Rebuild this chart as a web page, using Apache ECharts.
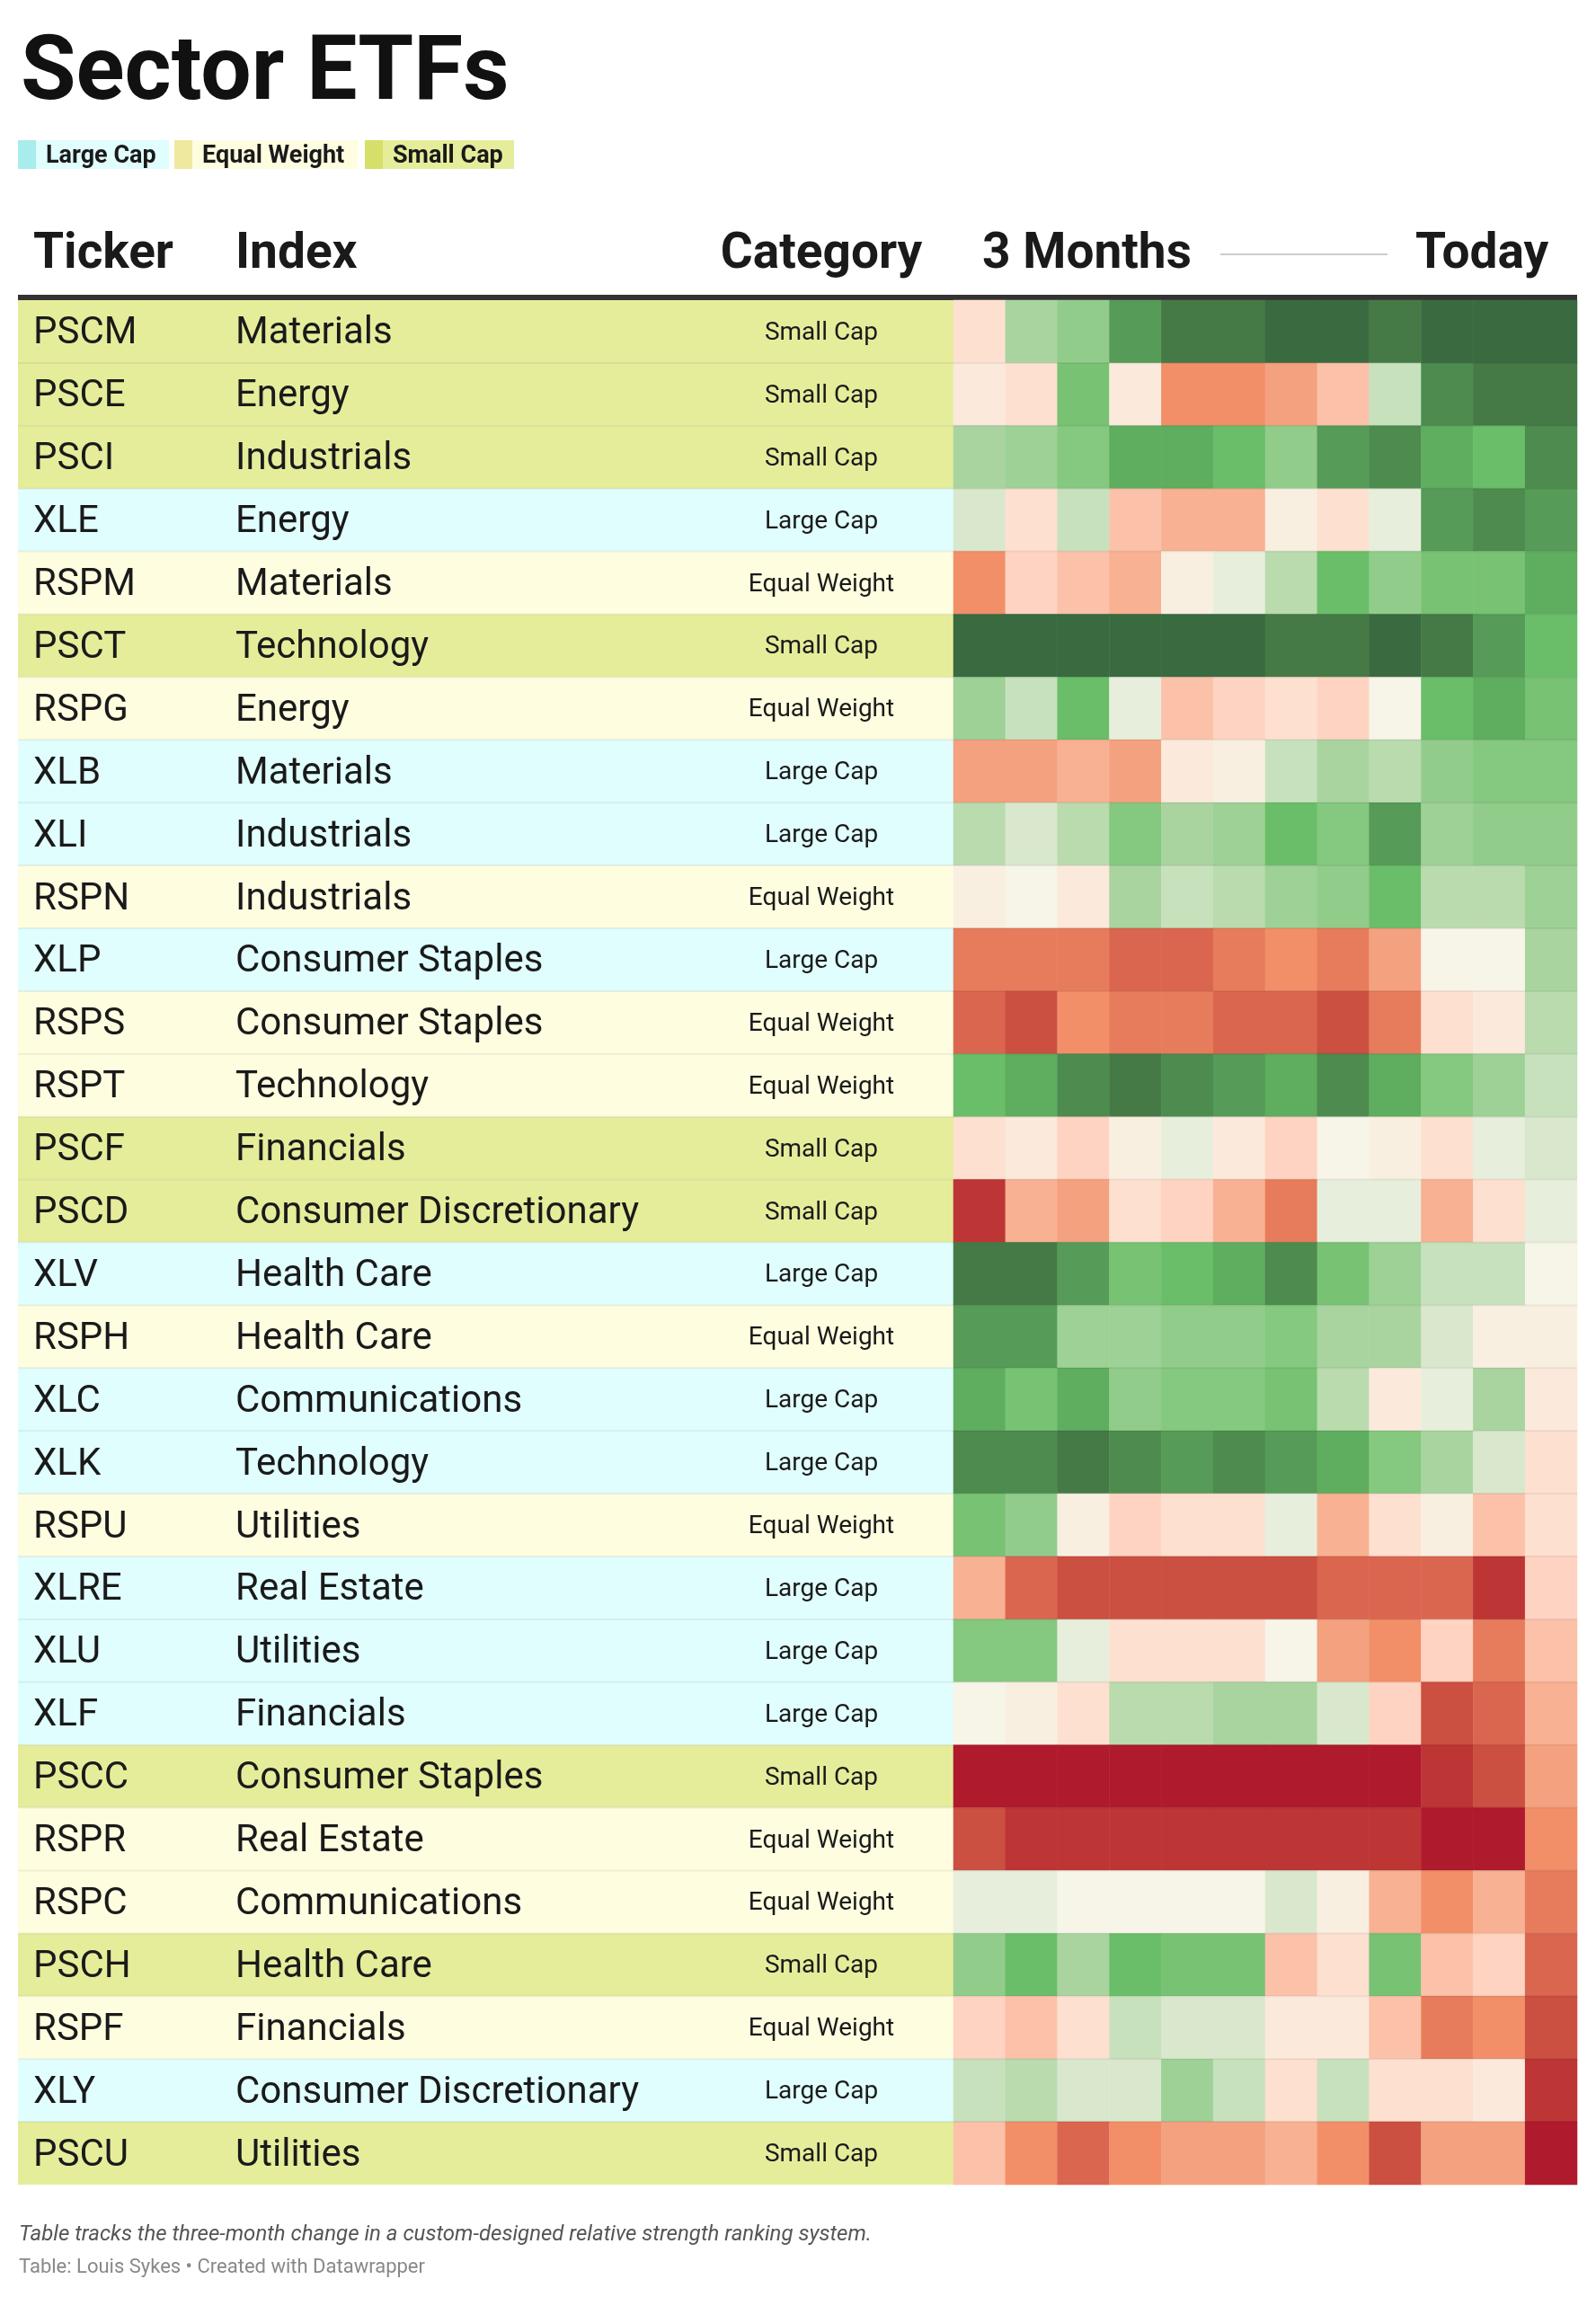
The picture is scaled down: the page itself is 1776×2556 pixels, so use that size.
<!DOCTYPE html>
<html>
<head>
<meta charset="utf-8">
<script src="https://cdn.jsdelivr.net/npm/echarts@6/dist/echarts.min.js"></script>
<style>
html,body{margin:0;padding:0;background:#fff;}
#chart{width:1776px;height:2556px;}
</style>
</head>
<body>
<div id="chart"></div>
<script>
// ---------- DATA ----------
const tickers = ['PSCM','PSCE','PSCI','XLE','RSPM','PSCT','RSPG','XLB','XLI','RSPN',
  'XLP','RSPS','RSPT','PSCF','PSCD','XLV','RSPH','XLC','XLK','RSPU',
  'XLRE','XLU','XLF','PSCC','RSPR','RSPC','PSCH','RSPF','XLY','PSCU'];
const sectors = ['Materials','Energy','Industrials','Energy','Materials','Technology','Energy','Materials','Industrials','Industrials',
  'Consumer Staples','Consumer Staples','Technology','Financials','Consumer Discretionary','Health Care','Health Care','Communications','Technology','Utilities',
  'Real Estate','Utilities','Financials','Consumer Staples','Real Estate','Communications','Health Care','Financials','Consumer Discretionary','Utilities'];
const caps = ['Small Cap','Small Cap','Small Cap','Large Cap','Equal Weight','Small Cap','Equal Weight','Large Cap','Large Cap','Equal Weight',
  'Large Cap','Equal Weight','Equal Weight','Small Cap','Small Cap','Large Cap','Equal Weight','Large Cap','Large Cap','Equal Weight',
  'Large Cap','Large Cap','Large Cap','Small Cap','Equal Weight','Equal Weight','Small Cap','Equal Weight','Large Cap','Small Cap'];
const periods = ['W-11','W-10','W-9','W-8','W-7','W-6','W-5','W-4','W-3','W-2','W-1','Today'];
const capTypes = ['Large Cap','Equal Weight','Small Cap'];
// relative strength rank level per weekly snapshot (1 = strongest / darkest green, 29 = weakest / darkest red)
const ranks = [
  [19,11,9,4,2,2,1,1,2,1,1,1],
  [18,19,7,18,24,24,23,21,13,3,2,2],
  [11,10,8,5,5,6,9,4,3,5,6,3],
  [14,19,13,21,22,22,17,19,15,4,3,4],
  [24,20,21,22,17,15,12,6,9,7,7,5],
  [1,1,1,1,1,1,2,2,1,2,4,6],
  [10,13,6,15,21,20,19,20,16,6,5,7],
  [23,23,22,23,18,17,13,11,12,9,8,8],
  [12,14,12,8,11,10,6,8,4,10,9,9],
  [17,16,18,11,13,12,10,9,6,12,12,10],
  [25,25,25,26,26,25,24,25,23,16,16,11],
  [26,27,24,25,25,26,26,27,25,19,18,12],
  [6,5,3,2,3,4,5,3,5,8,10,13],
  [19,18,20,17,15,18,20,16,17,19,15,14],
  [28,22,23,19,20,22,25,15,15,22,19,15],
  [2,2,4,7,6,5,3,7,10,13,13,16],
  [4,4,10,10,9,9,8,11,11,14,17,17],
  [5,7,5,9,8,8,7,12,18,15,11,18],
  [3,3,2,3,4,3,4,5,8,11,14,19],
  [7,9,17,20,19,19,15,22,19,17,21,19],
  [22,26,27,27,27,27,27,26,26,26,28,20],
  [8,8,15,19,19,19,16,23,24,20,25,21],
  [16,17,19,12,12,11,11,14,20,27,26,22],
  [29,29,29,29,29,29,29,29,29,28,27,23],
  [27,28,28,28,28,28,28,28,28,29,29,24],
  [15,15,16,16,16,16,14,17,22,24,22,25],
  [9,6,11,6,7,7,21,19,7,21,20,26],
  [20,21,19,13,14,14,18,18,21,25,24,27],
  [13,12,14,14,10,13,19,13,19,19,18,28],
  [21,24,26,24,23,23,22,24,27,23,23,29]
];

// ---------- STYLE ----------
const FONT = 'Roboto';
const capBg = {'Large Cap':'#e0fefe','Equal Weight':'#fefde0','Small Cap':'#e5ed9b'};
const capBar = {'Large Cap':'#a8ecec','Equal Weight':'#efe9a0','Small Cap':'#d5e06a'};
const palette = ['#3a6a40','#457a47','#4e8b4e','#569b57','#5fad5f','#6abe69','#78c273','#85c880','#92cc8b','#9dd196',
  '#a9d49f','#b9dbae','#c7e1bd','#d9e8cd','#e7efdc','#f7f4e8','#f9efe1','#fbe9db','#fde0cf','#fed3c1',
  '#fbc2a9','#f8b192','#f4a180','#f28f69','#e77c5c','#db6650','#cb5041','#bd3535','#af1a2d'];

const TABLE_LEFT = 20, HEAT_LEFT = 1061, HEAT_RIGHT = 1755, TOP = 334, BOTTOM_Y = 2431;

const heatData = [];
ranks.forEach((row, r) => row.forEach((v, c) => heatData.push([c, r, v])));

const chart = echarts.init(document.getElementById('chart'), null, {renderer:'canvas'});

// legend graphics
const legendItems = [
  {name:'Large Cap', x:20, w:168},
  {name:'Equal Weight', x:194, w:204},
  {name:'Small Cap', x:406, w:166}
];
const graphics = [];
graphics.push({type:'text', left:23, top:35, style:{text:'Sector ETFs', font:'bold 100px '+FONT, fill:'#111'}});
legendItems.forEach(it => {
  graphics.push({type:'rect', shape:{x:it.x, y:156, width:it.w, height:32}, style:{fill:capBg[it.name]}});
  graphics.push({type:'rect', shape:{x:it.x, y:156, width:20, height:32}, style:{fill:capBar[it.name]}});
  graphics.push({type:'text', x:it.x+31, y:174, style:{text:it.name, font:'bold 27px '+FONT, fill:'#1a1a1a', verticalAlign:'middle'}});
});
const headY = 284;
graphics.push({type:'text', x:37, y:headY, style:{text:'Ticker', font:'bold 55px '+FONT, fill:'#1a1a1a', verticalAlign:'middle'}});
graphics.push({type:'text', x:262, y:headY, style:{text:'Index', font:'bold 55px '+FONT, fill:'#1a1a1a', verticalAlign:'middle'}});
graphics.push({type:'text', x:914, y:headY, style:{text:'Category', font:'bold 55px '+FONT, fill:'#1a1a1a', align:'center', verticalAlign:'middle'}});
graphics.push({type:'text', x:1093, y:headY, style:{text:'3 Months', font:'bold 55px '+FONT, fill:'#1a1a1a', verticalAlign:'middle'}});
graphics.push({type:'line', shape:{x1:1358, y1:283, x2:1544, y2:283}, style:{stroke:'#cccccc', lineWidth:2}});
graphics.push({type:'text', x:1575, y:headY, style:{text:'Today', font:'bold 55px '+FONT, fill:'#1a1a1a', verticalAlign:'middle'}});
graphics.push({type:'rect', shape:{x:TABLE_LEFT, y:328, width:HEAT_RIGHT-TABLE_LEFT, height:6}, style:{fill:'#333333'}});
graphics.push({type:'text', x:21, y:2487, style:{text:'Table tracks the three-month change in a custom-designed relative strength ranking system.', font:'italic 24px '+FONT, fill:'#555555', verticalAlign:'middle'}});
graphics.push({type:'text', x:21, y:2523, style:{text:'Table: Louis Sykes \u2022 Created with Datawrapper', font:'22px '+FONT, fill:'#888888', verticalAlign:'middle'}});

const option = {
  animation:false,
  backgroundColor:'#ffffff',
  graphic: graphics,
  grid:[
    {left:TABLE_LEFT, top:TOP, width:HEAT_LEFT-TABLE_LEFT, height:BOTTOM_Y-TOP},
    {left:HEAT_LEFT, top:TOP, width:HEAT_RIGHT-HEAT_LEFT, height:BOTTOM_Y-TOP}
  ],
  xAxis:[
    {gridIndex:0, type:'value', min:0, max:1, show:false},
    {gridIndex:1, type:'category', data:periods, show:false}
  ],
  yAxis:[
    {gridIndex:0, type:'category', data:tickers, inverse:true, show:false},
    {gridIndex:1, type:'category', data:tickers, inverse:true, show:false}
  ],
  visualMap:{
    type:'continuous', min:1, max:29, dimension:2, seriesIndex:1, show:false,
    inRange:{color:palette}
  },
  series:[
    {
      type:'custom', xAxisIndex:0, yAxisIndex:0, z:1, silent:true,
      data: tickers.map((t,i)=>[0, i]),
      renderItem:(params, api)=>{
        const i = api.value(1);
        const c = api.coord([0, i]);
        const h = api.size([0, 1])[1];
        const cs = params.coordSys;
        const top = c[1] - h/2;
        return {type:'group', children:[
          {type:'rect', shape:{x:cs.x, y:top, width:cs.width, height:h}, style:{fill:capBg[caps[i]]}},
          {type:'text', x:cs.x+17, y:c[1]+3, style:{text:tickers[i], font:'42px '+FONT, fill:'#1a1a1a', verticalAlign:'middle'}},
          {type:'text', x:cs.x+242, y:c[1]+3, style:{text:sectors[i], font:'42px '+FONT, fill:'#1a1a1a', verticalAlign:'middle'}},
          {type:'text', x:cs.x+894, y:c[1]+2, style:{text:caps[i], font:'28px '+FONT, fill:'#1a1a1a', align:'center', verticalAlign:'middle'}}
        ]};
      }
    },
    {
      type:'heatmap', xAxisIndex:1, yAxisIndex:1, z:2, data:heatData,
      itemStyle:{borderWidth:0}, emphasis:{disabled:true}
    },
    {
      type:'custom', xAxisIndex:0, yAxisIndex:0, z:5, silent:true,
      data: tickers.slice(1).map((t,i)=>[0, i+1]),
      renderItem:(params, api)=>{
        const i = api.value(1);
        const c = api.coord([0, i]);
        const h = api.size([0, 1])[1];
        const y = c[1] - h/2;
        return {type:'rect', shape:{x:TABLE_LEFT, y:y-1, width:HEAT_RIGHT-TABLE_LEFT, height:2}, style:{fill:'rgba(0,0,0,0.06)'}};
      }
    }
  ]
};
chart.setOption(option);
</script>
</body>
</html>
